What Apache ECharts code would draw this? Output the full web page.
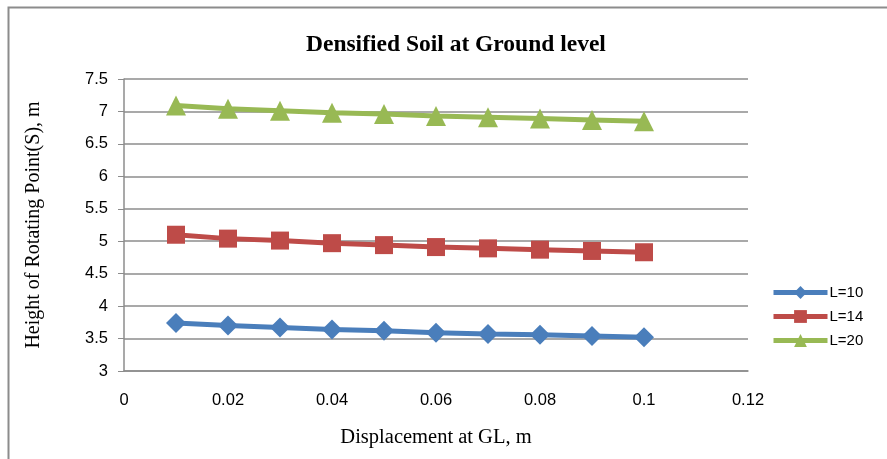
<!DOCTYPE html>
<html>
<head>
<meta charset="utf-8">
<script src="https://cdn.jsdelivr.net/npm/echarts@6/dist/echarts.min.js"></script>
<style>
html,body{margin:0;padding:0;background:#fff;}
#c{width:887px;height:459px;}
</style>
</head>
<body>
<div id="c"></div>
<script>
var xValues = [0.01, 0.02, 0.03, 0.04, 0.05, 0.06, 0.07, 0.08, 0.09, 0.10];
var seriesNames = ['L=10', 'L=14', 'L=20'];
var L10 = [3.74, 3.70, 3.67, 3.64, 3.62, 3.59, 3.57, 3.56, 3.54, 3.52];
var L14 = [5.10, 5.04, 5.01, 4.97, 4.94, 4.91, 4.89, 4.87, 4.85, 4.83];
var L20 = [7.09, 7.04, 7.01, 6.98, 6.96, 6.93, 6.91, 6.89, 6.87, 6.85];
var colors = ['#4a7ebb', '#be4b48', '#98b954'];
var symbols = ['diamond', 'rect', 'triangle'];
var symbolSizes = [20, 18, 20];
var allData = [L10, L14, L20];

function pairs(ys) { return xValues.map(function (x, i) { return [x, ys[i]]; }); }

var chart = echarts.init(document.getElementById('c'));
var series = seriesNames.map(function (n, k) {
  return {
    name: n, type: 'line', data: pairs(allData[k]),
    symbol: symbols[k], symbolSize: symbolSizes[k],
    lineStyle: { color: colors[k], width: 5 },
    itemStyle: { color: colors[k] },
    animation: false
  };
});

chart.setOption({
  animation: false,
  title: {
    text: 'Densified Soil at Ground level', left: 301, top: 28,
    textStyle: { fontFamily: 'Liberation Serif', fontWeight: 'bold', fontSize: 23.5, color: '#000' }
  },
  graphic: [{
    type: 'rect', shape: { x: 8.5, y: 7.5, width: 900, height: 500 },
    style: { fill: 'none', stroke: '#8c8c8c', lineWidth: 2 }, silent: true
  }],
  grid: { left: 124, right: 139, top: 79, bottom: 88, containLabel: false },
  legend: {
    orient: 'vertical', left: 766, top: 280, itemGap: 9,
    itemWidth: 54, itemHeight: 16,
    data: seriesNames,
    lineStyle: { width: 5 },
    textStyle: { fontFamily: 'Liberation Sans', fontSize: 15, color: '#000', padding: [0, 0, 0, -3] }
  },
  xAxis: {
    type: 'value', min: 0, max: 0.12, interval: 0.02,
    name: 'Displacement at GL, m', nameLocation: 'middle', nameGap: 56,
    nameTextStyle: { fontFamily: 'Liberation Serif', fontSize: 20.5, color: '#000' },
    axisLine: { lineStyle: { color: '#8c8c8c', width: 1.5 } },
    axisTick: { show: false },
    splitLine: { show: false },
    axisLabel: { fontFamily: 'Liberation Sans', fontSize: 16.5, color: '#000', margin: 21,
      formatter: function (v) { return String(+v.toFixed(2)); } }
  },
  yAxis: {
    type: 'value', min: 3, max: 7.5, interval: 0.5,
    name: 'Height of Rotating Point(S), m', nameLocation: 'middle', nameGap: 80, nameRotate: 90,
    nameTextStyle: { fontFamily: 'Liberation Serif', fontSize: 20, color: '#000' },
    axisLine: { show: true, lineStyle: { color: '#8c8c8c', width: 1.5 } },
    axisTick: { show: true, length: 6, inside: false, lineStyle: { color: '#8c8c8c' } },
    splitLine: { lineStyle: { color: '#8c8c8c', width: 1.5 } },
    axisLabel: { fontFamily: 'Liberation Sans', fontSize: 16.5, color: '#000', margin: 16,
      formatter: function (v) { return String(+v.toFixed(1)); } }
  },
  series: series
});
</script>
</body>
</html>
